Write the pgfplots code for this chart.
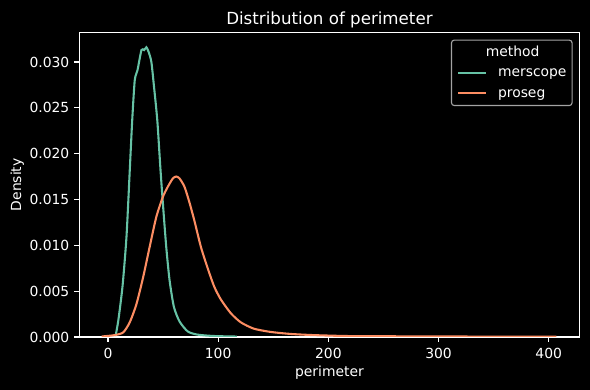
\documentclass[border=0pt]{standalone}
\usepackage{fontspec}
\setmainfont{DejaVu Sans}
\usepackage{pgfplots}
\pgfplotsset{compat=1.18}
\definecolor{merscope}{HTML}{66C2A5}
\definecolor{proseg}{HTML}{FC8D62}
\definecolor{legedge}{HTML}{A3A3A3}
\newcommand{\tenbp}{\fontsize{10bp}{12bp}\selectfont}
\begin{document}
\begin{tikzpicture}
\useasboundingbox[fill=black] (-57.1bp,-38.2bp) rectangle (367.7bp,242.6bp);
\begin{axis}[
  at={(0,0)}, anchor=south west,
  scale only axis, width=360.2bp, height=219.1bp,
  xmin=-26, xmax=428, ymin=0, ymax=0.0332,
  axis line style={white, line width=0.8bp},
  tick style={white, line width=0.8bp},
  major tick length=3.5bp, tick align=outside, tick pos=left,
  xtick={0,100,200,300,400},
  ytick={0,0.005,0.010,0.015,0.020,0.025,0.030},
  scaled y ticks=false,
  /pgf/number format/assume math mode=true,
  xticklabel style={font=\tenbp, text=white, inner sep=0pt, anchor=north, yshift=-4.2bp},
  yticklabel style={/pgf/number format/fixed, /pgf/number format/fixed zerofill, /pgf/number format/precision=3,
    font=\tenbp, text=white, inner sep=0pt, anchor=east, xshift=-3.5bp},
  every axis title shift=0pt,
  title={Distribution of perimeter},
  title style={at={(axis description cs:0.5,1.0274)}, anchor=base, inner sep=0pt, font=\fontsize{12bp}{14bp}\selectfont, text=white},
  xlabel={perimeter},
  xlabel style={at={(axis description cs:0.5,-0.1292)}, anchor=base, inner sep=0pt, font=\tenbp, text=white},
  ylabel={Density},
  ylabel style={at={(axis description cs:-0.1163,0.5)}, anchor=base, inner sep=0pt, font=\tenbp, text=white},
  legend style={at={(axis description cs:1,1)}, anchor=north east, xshift=-5bp, yshift=-5bp,
    draw=legedge, line width=0.8bp, fill=black, rounded corners=2bp, text=white, font=\tenbp,
    inner sep=4bp, row sep=5bp, column sep=8bp,
    nodes={inner sep=0pt, text height=7.6bp, text depth=2.1bp}},
  legend image code/.code={\draw[#1, line width=1.5bp, sharp corners] (0bp,0bp) -- (20bp,0bp);},
  legend cell align=left,
]
\addlegendimage{empty legend}
\addlegendentry{\hspace*{-8.8bp}method}
\addplot[merscope, line width=1.5bp, smooth, tension=0.4] coordinates {
(6.9,0.0001) (9.4,0.0018) (13.2,0.0055) (16.8,0.0109) (19.8,0.0182) (22,0.0236)
(24.3,0.0280) (26.8,0.0291) (30.4,0.0313) (32.8,0.0313) (34.9,0.0316) (36.9,0.0311)
(39.4,0.0300) (41.8,0.0273) (44.8,0.0236) (47.7,0.0182) (49.9,0.0145) (52.9,0.0098)
(55.9,0.0062) (59.8,0.0033) (64.9,0.0017) (72.4,0.0006) (81.4,0.00025) (96.4,0.0001)
(117,0.00004)
};
\addlegendentry{merscope}
\addplot[proseg, line width=1.5bp, smooth, tension=0.4] coordinates {
(-5.7,0.00005) (6.3,0.0002) (13.9,0.0005) (19.8,0.0016) (25.9,0.0036) (31.9,0.0065)
(37.8,0.0098) (43.9,0.0131) (49.9,0.0153) (54.4,0.0164) (58.9,0.0173) (61.9,0.0175)
(64.9,0.0173) (69.4,0.0164) (73.9,0.0147) (78.4,0.0127) (84.4,0.0098) (90.5,0.0075)
(96.4,0.0055) (102.4,0.0041) (111.4,0.0026) (120.5,0.0016) (132.4,0.0009) (147.5,0.00055)
(165.5,0.00033) (186.8,0.0002) (216.6,0.0001) (246.6,0.00008) (300,0.00005) (350,0.00004)
(407,0.00003)
};
\addlegendentry{proseg}
\end{axis}
\end{tikzpicture}
\end{document}
